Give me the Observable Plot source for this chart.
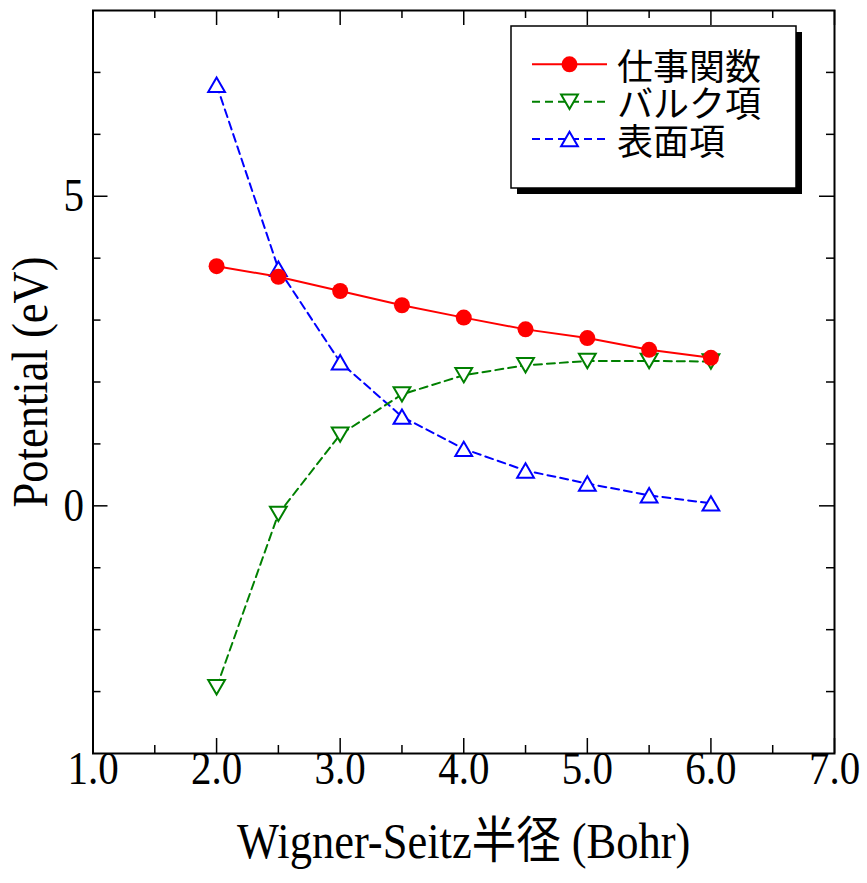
<!DOCTYPE html>
<html>
<head>
<meta charset="utf-8">
<script src="https://cdn.jsdelivr.net/npm/d3@7"></script>
<script src="https://cdn.jsdelivr.net/npm/@observablehq/plot@0.6"></script>
<style>
  html, body { margin: 0; padding: 0; background: #fff; }
  #chart { width: 867px; height: 883px; }
</style>
</head>
<body>
<div id="chart"></div>
<script>
// Wigner-Seitz radius (Bohr)
const radius = [2.0, 2.5, 3.0, 3.5, 4.0, 4.5, 5.0, 5.5, 6.0];
// Potentials (eV)
const workFunction = [3.87, 3.70, 3.47, 3.24, 3.04, 2.85, 2.71, 2.52, 2.39];
const bulkTerm = [-2.93, -0.13, 1.15, 1.80, 2.11, 2.27, 2.34, 2.34, 2.33];
const surfaceTerm = [6.80, 3.83, 2.32, 1.44, 0.92, 0.57, 0.36, 0.17, 0.04];
const seriesNames = ["仕事関数", "バルク項", "表面項"];

const xMajorTicks = [1, 2, 3, 4, 5, 6, 7];
const xMinorTicks = [1.5, 2.5, 3.5, 4.5, 5.5, 6.5];
const yMajorTicks = [0, 5];
const yMinorTicks = [-3, -2, -1, 1, 2, 3, 4, 6, 7];

const xLabel = "Wigner-Seitz半径 (Bohr)";
const yLabel = "Potential (eV)";

const W = 867, H = 883;
const M = {top: 10, right: 33, bottom: 130, left: 92.5};
const innerW = W - M.left - M.right;
const innerH = H - M.top - M.bottom;
const FONT = "'Liberation Serif', 'Times New Roman', 'Noto Sans CJK JP', serif";
const SQUEEZE = 0.89;

// Hollow triangle markers, bounding box centred on the point
const triangle = (dir) => ({
  draw(context, size) {
    const r = Math.sqrt(size / Math.PI);
    const w = r * 1.05, h = r * 0.9 * dir;
    context.moveTo(0, -h);
    context.lineTo(w, h);
    context.lineTo(-w, h);
    context.closePath();
  }
});
const triUp = triangle(1);
const triDown = triangle(-1);

const rows = (values) => radius.map((x, i) => ({x, y: values[i]}));
const series = [
  {name: seriesNames[0], data: rows(workFunction), color: "#ff0000", dash: null, symbol: "circle", fill: "#ff0000"},
  {name: seriesNames[1], data: rows(bulkTerm), color: "#008000", dash: "8,5", symbol: triDown, fill: "white"},
  {name: seriesNames[2], data: rows(surfaceTerm), color: "#0000ff", dash: "8,5", symbol: triUp, fill: "white"}
];

// Boxed legend with a drop shadow in the upper right of the frame
function legend(index, scales, values, dims) {
  const g = d3.create("svg:g").attr("class", "legend");
  const bx = 511, by = 26, bw = 285, bh = 162;
  g.append("rect").attr("x", bx + 6).attr("y", by + 6).attr("width", bw).attr("height", bh).attr("fill", "black");
  g.append("rect").attr("x", bx).attr("y", by).attr("width", bw).attr("height", bh)
    .attr("fill", "white").attr("stroke", "black").attr("stroke-width", 1.5);
  const rowY = [64.3, 101.7, 139];
  series.forEach((s, i) => {
    const y = rowY[i];
    g.append("line").attr("x1", 532).attr("x2", 607).attr("y1", y).attr("y2", y)
      .attr("stroke", s.color).attr("stroke-width", 2)
      .attr("stroke-dasharray", s.dash);
    const sym = s.symbol === "circle" ? d3.symbolCircle : s.symbol;
    g.append("path").attr("transform", `translate(${569.5},${y})`)
      .attr("d", d3.symbol(sym, Math.PI * 64)())
      .attr("fill", s.fill).attr("stroke", s.color).attr("stroke-width", s.symbol === "circle" ? 0 : 2);
    g.append("text").attr("x", 617).attr("y", y + 3).attr("dy", "0.35em")
      .attr("text-anchor", "start")
      .attr("font-family", "'Noto Sans CJK JP', sans-serif").attr("font-size", 36)
      .attr("fill", "black").text(s.name);
  });
  return g.node();
}

const marks = [];
// inward ticks on all four sides
const tickStyle = {stroke: "black", strokeWidth: 1.5};
marks.push(
  Plot.tickX(xMajorTicks, {x: d => d, insetTop: innerH - 15, ...tickStyle}),
  Plot.tickX(xMajorTicks, {x: d => d, insetBottom: innerH - 15, ...tickStyle}),
  Plot.tickX(xMinorTicks, {x: d => d, insetTop: innerH - 8, ...tickStyle}),
  Plot.tickX(xMinorTicks, {x: d => d, insetBottom: innerH - 8, ...tickStyle}),
  Plot.tickY(yMajorTicks, {y: d => d, insetRight: innerW - 15, ...tickStyle}),
  Plot.tickY(yMajorTicks, {y: d => d, insetLeft: innerW - 15, ...tickStyle}),
  Plot.tickY(yMinorTicks, {y: d => d, insetRight: innerW - 8, ...tickStyle}),
  Plot.tickY(yMinorTicks, {y: d => d, insetLeft: innerW - 8, ...tickStyle})
);
// series: surface, bulk, then work function on top
for (const s of [series[2], series[1], series[0]]) {
  marks.push(
    Plot.line(s.data, {x: "x", y: "y", stroke: s.color, strokeWidth: 2, strokeDasharray: s.dash}),
    Plot.dot(s.data, {x: "x", y: "y", r: 8, symbol: s.symbol, fill: s.fill, stroke: s.color, strokeWidth: s.symbol === "circle" ? 0 : 2})
  );
}
// tick labels and axis titles
marks.push(
  Plot.text(xMajorTicks, {x: d => d, frameAnchor: "bottom", dy: 30, text: d => d3.format(".1f")(d),
    fontSize: 46, fill: "black"}),
  Plot.text(yMajorTicks, {y: d => d, frameAnchor: "left", dx: -9, textAnchor: "end", text: d => String(d),
    fontSize: 46, fill: "black"}),
  Plot.text([yLabel], {frameAnchor: "left", dx: -62, rotate: -90, textAnchor: "middle", text: d => d, fontSize: 50, fill: "black"}),
  Plot.text([xLabel], {frameAnchor: "bottom", dy: 104, textAnchor: "middle", text: d => d, fontSize: 50, fill: "black"}),
  Plot.frame({stroke: "black", strokeWidth: 2}),
  legend
);

const chart = Plot.plot({
  width: W,
  height: H,
  marginTop: M.top,
  marginRight: M.right,
  marginBottom: M.bottom,
  marginLeft: M.left,
  style: {fontFamily: FONT, background: "white", overflow: "visible"},
  x: {domain: [1, 7], axis: null},
  y: {domain: [-4, 8], axis: null},
  marks
});
document.getElementById("chart").appendChild(chart);

// The serif labels are set slightly condensed
chart.querySelectorAll("text").forEach(t => {
  if (t.closest(".legend")) return;
  const len = t.getComputedTextLength();
  if (len > 0) {
    t.setAttribute("textLength", (len * SQUEEZE).toFixed(1));
    t.setAttribute("lengthAdjust", "spacingAndGlyphs");
  }
});
</script>
</body>
</html>
